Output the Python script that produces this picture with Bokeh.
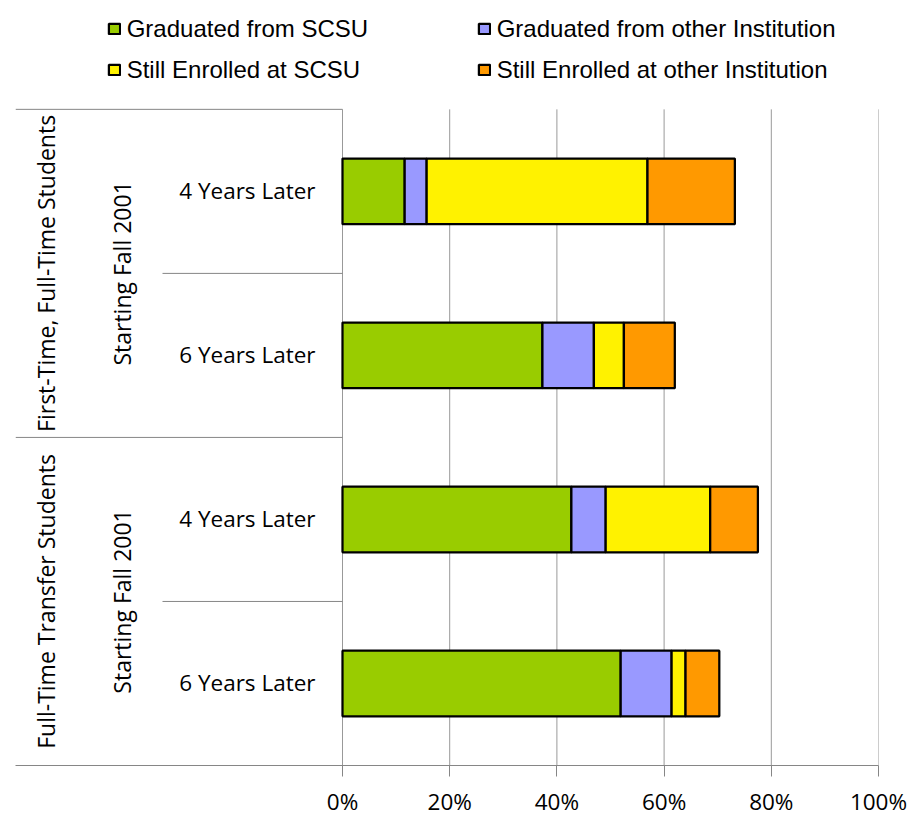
import math
from bokeh.plotting import figure
from bokeh.models import (ColumnDataSource, Range1d, FixedTicker,
                          PrintfTickFormatter, Legend, LegendItem)
from bokeh.core.properties import value
from bokeh.embed import file_html
from bokeh.resources import INLINE

# ---------------- data ----------------
groups = ["First-Time, Full-Time Students", "Full-Time Transfer Students"]
cohort = "Starting Fall 2001"
periods = ["4 Years Later", "6 Years Later"]
series = ["Graduated from SCSU", "Graduated from other Institution",
          "Still Enrolled at SCSU", "Still Enrolled at other Institution"]
grad_scsu = [11.6, 37.3, 42.7, 51.9]
grad_other = [4.1, 9.6, 6.4, 9.5]
enrolled_scsu = [41.2, 5.6, 19.5, 2.6]
enrolled_other = [16.3, 9.5, 8.9, 6.3]
x_ticks = [0, 20, 40, 60, 80, 100]
colors = ["#99CC00", "#9999FF", "#FFF200", "#FF9900"]

# ---------------- layout constants (pixels) ----------------
W, H = 910, 819
frame_left, frame_right = 15, 878
zero_px = 342
frame_bottom = 766
cat_top_px = 109
px_per_unit = (frame_right - zero_px) / 100.0
x_start = -(zero_px - frame_left) / px_per_unit
sub_line_start = -(zero_px - 162) / px_per_unit
row_px = (frame_bottom - cat_top_px) / 4.0
y_top = 4 + cat_top_px / row_px
GRID = "#999999"
AXIS = "#868686"
FONT = "Open Sans"
FS = "22.5px"
FS_ROT = "23px"

# rows, top -> bottom
rows = [(g, cohort, per) for g in groups for per in periods]
n = len(rows)
y_pos = [n - i - 0.5 for i in range(n)]
group_y = [sum(y for (g2, _, _), y in zip(rows, y_pos) if g2 == g) / len(periods) for g in groups]

p = figure(width=W, height=H, x_range=Range1d(x_start, 100), y_range=Range1d(0, y_top),
           output_backend="svg", toolbar_location=None, y_axis_location=None,
           min_border_left=frame_left, min_border_right=W - frame_right,
           min_border_top=0, min_border_bottom=H - frame_bottom)
p.outline_line_color = None
p.background_fill_color = "white"

# x axis
p.xaxis.ticker = FixedTicker(ticks=x_ticks)
p.xaxis.formatter = PrintfTickFormatter(format="%d%%")
p.xaxis.axis_line_color = AXIS
p.xaxis.major_tick_line_color = AXIS
p.xaxis.major_tick_out = 11
p.xaxis.major_tick_in = 0
p.xaxis.minor_tick_line_color = None
p.xaxis.major_label_text_font = FONT
p.xaxis.major_label_text_font_size = FS
p.xaxis.major_label_text_color = "black"
p.xaxis.major_label_standoff = 9
p.xgrid.visible = False
p.ygrid.visible = False

# vertical gridlines limited to the plotting area
p.segment(x0=x_ticks, y0=[0] * len(x_ticks), x1=x_ticks, y1=[4] * len(x_ticks),
          line_color=GRID, line_width=1)

# bars
source = ColumnDataSource(dict(y=y_pos, grad_scsu=grad_scsu, grad_other=grad_other,
                               enr_scsu=enrolled_scsu, enr_other=enrolled_other))
stackers = ["grad_scsu", "grad_other", "enr_scsu", "enr_other"]
rs = p.hbar_stack(stackers, y="y", height=0.4, fill_color=colors,
                  line_color="black", line_width=2.25, source=source)

# table-like category area lines
p.segment(x0=[x_start, x_start], y0=[4, 2], x1=[0, 0], y1=[4, 2], line_color=AXIS, line_width=1)
p.segment(x0=[sub_line_start, sub_line_start], y0=[3, 1], x1=[0, 0], y1=[3, 1],
          line_color=AXIS, line_width=1)

# category labels
cat_src = ColumnDataSource(dict(x=[0] * n, y=y_pos, text=[r[2] for r in rows]))
p.text(x="x", y="y", text="text", source=cat_src, x_offset=-27, y_offset=-1,
       text_align="right", text_baseline="middle", text_font=value(FONT),
       text_font_size=FS, text_color="black")

sub_src = ColumnDataSource(dict(x=[0] * len(groups), y=group_y, text=[cohort] * len(groups)))
p.text(x="x", y="y", text="text", source=sub_src, x_offset=-221, angle=math.pi / 2,
       text_align="center", text_baseline="middle", text_font=value(FONT),
       text_font_size=FS_ROT, text_color="black")

grp_src = ColumnDataSource(dict(x=[0] * len(groups), y=group_y, text=groups))
p.text(x="x", y="y", text="text", source=grp_src, x_offset=-297, angle=math.pi / 2,
       text_align="center", text_baseline="middle", text_font=value(FONT),
       text_font_size=FS_ROT, text_color="black")

# legends (two columns)
def make_legend(items, loc):
    return Legend(items=items, location=loc, orientation="vertical",
                  background_fill_alpha=0, border_line_color=None, padding=0, margin=0,
                  spacing=11, label_standoff=6, glyph_width=14, glyph_height=13,
                  label_height=30, label_text_font="Liberation Sans",
                  label_text_font_size="24px", label_text_color="black")

leg1 = make_legend([LegendItem(label=series[0], renderers=[rs[0]]),
                    LegendItem(label=series[2], renderers=[rs[2]])], (91.7, 680.5))
leg2 = make_legend([LegendItem(label=series[1], renderers=[rs[1]]),
                    LegendItem(label=series[3], renderers=[rs[3]])], (461.7, 680.5))
p.add_layout(leg1)
p.add_layout(leg2)

open("out.html", "w").write(file_html(p, INLINE))
